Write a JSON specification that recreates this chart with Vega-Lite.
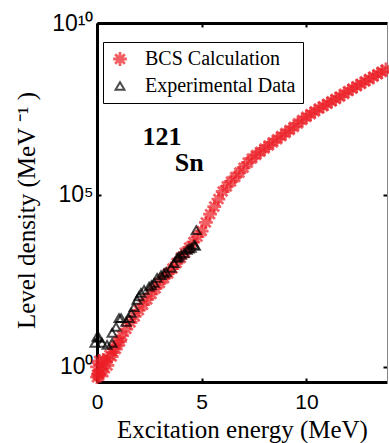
{
  "$schema": "https://vega.github.io/schema/vega-lite/v6.json",
  "width": 290,
  "height": 359,
  "autosize": {"type": "none"},
  "padding": {"left": 97, "top": 23, "right": 2, "bottom": 61},
  "background": "white",
  "config": {
    "view": {"stroke": null},
    "axis": {"labelFont": "Liberation Sans", "labelFontSize": 21, "labelColor": "black", "titleFont": "Liberation Serif", "titleFontSize": 25, "titleFontWeight": "normal", "titleColor": "black", "grid": false, "domainColor": "black", "tickColor": "black"},
    "legend": {"labelFont": "Liberation Serif", "labelFontSize": 20, "labelColor": "black", "labelFontWeight": "normal"}
  },
  "datasets": {
    "pts": [
      {"s": "BCS Calculation", "e": 0.0, "d": 0.501},
      {"s": "BCS Calculation", "e": 0.0, "d": 1.0},
      {"s": "BCS Calculation", "e": 0.05, "d": 0.6},
      {"s": "BCS Calculation", "e": 0.1, "d": 1.5},
      {"s": "BCS Calculation", "e": 0.1, "d": 0.55},
      {"s": "BCS Calculation", "e": 0.2, "d": 0.832},
      {"s": "BCS Calculation", "e": 0.3, "d": 0.7},
      {"s": "BCS Calculation", "e": 0.3, "d": 1.6},
      {"s": "BCS Calculation", "e": 0.4, "d": 1.38},
      {"s": "BCS Calculation", "e": 0.5, "d": 1.1},
      {"s": "BCS Calculation", "e": 0.6, "d": 2.19},
      {"s": "BCS Calculation", "e": 0.7, "d": 2.0},
      {"s": "BCS Calculation", "e": 0.8, "d": 3.39},
      {"s": "BCS Calculation", "e": 0.9, "d": 3.3},
      {"s": "BCS Calculation", "e": 1.0, "d": 5.25},
      {"s": "BCS Calculation", "e": 1.1, "d": 5.5},
      {"s": "BCS Calculation", "e": 1.2, "d": 8.13},
      {"s": "BCS Calculation", "e": 1.4, "d": 12.6},
      {"s": "BCS Calculation", "e": 1.6, "d": 19.5},
      {"s": "BCS Calculation", "e": 1.8, "d": 29.5},
      {"s": "BCS Calculation", "e": 2.0, "d": 44.7},
      {"s": "BCS Calculation", "e": 2.2, "d": 64.6},
      {"s": "BCS Calculation", "e": 2.4, "d": 91.2},
      {"s": "BCS Calculation", "e": 2.6, "d": 132},
      {"s": "BCS Calculation", "e": 2.8, "d": 191},
      {"s": "BCS Calculation", "e": 3.0, "d": 275},
      {"s": "BCS Calculation", "e": 3.2, "d": 380},
      {"s": "BCS Calculation", "e": 3.4, "d": 525},
      {"s": "BCS Calculation", "e": 3.6, "d": 724},
      {"s": "BCS Calculation", "e": 3.8, "d": 1047},
      {"s": "BCS Calculation", "e": 4.0, "d": 1479},
      {"s": "BCS Calculation", "e": 4.2, "d": 2089},
      {"s": "BCS Calculation", "e": 4.4, "d": 2951},
      {"s": "BCS Calculation", "e": 4.6, "d": 4266},
      {"s": "BCS Calculation", "e": 4.8, "d": 6166},
      {"s": "BCS Calculation", "e": 5.0, "d": 8913},
      {"s": "BCS Calculation", "e": 5.2, "d": 15849},
      {"s": "BCS Calculation", "e": 5.4, "d": 27542},
      {"s": "BCS Calculation", "e": 5.6, "d": 45709},
      {"s": "BCS Calculation", "e": 5.8, "d": 75858},
      {"s": "BCS Calculation", "e": 6.0, "d": 125893},
      {"s": "BCS Calculation", "e": 6.2, "d": 177828},
      {"s": "BCS Calculation", "e": 6.4, "d": 245471},
      {"s": "BCS Calculation", "e": 6.6, "d": 331131},
      {"s": "BCS Calculation", "e": 6.8, "d": 446684},
      {"s": "BCS Calculation", "e": 7.0, "d": 616595},
      {"s": "BCS Calculation", "e": 7.2, "d": 870964},
      {"s": "BCS Calculation", "e": 7.4, "d": 1.15e6},
      {"s": "BCS Calculation", "e": 7.6, "d": 1.45e6},
      {"s": "BCS Calculation", "e": 7.8, "d": 1.80e6},
      {"s": "BCS Calculation", "e": 8.0, "d": 2.24e6},
      {"s": "BCS Calculation", "e": 8.2, "d": 2.75e6},
      {"s": "BCS Calculation", "e": 8.4, "d": 3.39e6},
      {"s": "BCS Calculation", "e": 8.6, "d": 4.17e6},
      {"s": "BCS Calculation", "e": 8.8, "d": 5.13e6},
      {"s": "BCS Calculation", "e": 9.0, "d": 6.31e6},
      {"s": "BCS Calculation", "e": 9.2, "d": 7.76e6},
      {"s": "BCS Calculation", "e": 9.4, "d": 9.55e6},
      {"s": "BCS Calculation", "e": 9.6, "d": 1.20e7},
      {"s": "BCS Calculation", "e": 9.8, "d": 1.51e7},
      {"s": "BCS Calculation", "e": 10.0, "d": 1.86e7},
      {"s": "BCS Calculation", "e": 10.2, "d": 2.24e7},
      {"s": "BCS Calculation", "e": 10.4, "d": 2.69e7},
      {"s": "BCS Calculation", "e": 10.6, "d": 3.24e7},
      {"s": "BCS Calculation", "e": 10.8, "d": 3.80e7},
      {"s": "BCS Calculation", "e": 11.0, "d": 4.47e7},
      {"s": "BCS Calculation", "e": 11.2, "d": 5.25e7},
      {"s": "BCS Calculation", "e": 11.4, "d": 6.17e7},
      {"s": "BCS Calculation", "e": 11.6, "d": 7.24e7},
      {"s": "BCS Calculation", "e": 11.8, "d": 8.71e7},
      {"s": "BCS Calculation", "e": 12.0, "d": 1.05e8},
      {"s": "BCS Calculation", "e": 12.2, "d": 1.23e8},
      {"s": "BCS Calculation", "e": 12.4, "d": 1.45e8},
      {"s": "BCS Calculation", "e": 12.6, "d": 1.70e8},
      {"s": "BCS Calculation", "e": 12.8, "d": 2.00e8},
      {"s": "BCS Calculation", "e": 13.0, "d": 2.34e8},
      {"s": "BCS Calculation", "e": 13.2, "d": 2.75e8},
      {"s": "BCS Calculation", "e": 13.4, "d": 3.24e8},
      {"s": "BCS Calculation", "e": 13.6, "d": 3.80e8},
      {"s": "BCS Calculation", "e": 13.8, "d": 4.47e8},
      {"s": "Experimental Data", "e": 0.0, "d": 7.41},
      {"s": "Experimental Data", "e": -0.1, "d": 5.01},
      {"s": "Experimental Data", "e": 0.1, "d": 6.92},
      {"s": "Experimental Data", "e": 0.24, "d": 5.01},
      {"s": "Experimental Data", "e": 0.48, "d": 4.37},
      {"s": "Experimental Data", "e": 0.72, "d": 5.01},
      {"s": "Experimental Data", "e": 0.72, "d": 9.77},
      {"s": "Experimental Data", "e": 0.91, "d": 14.5},
      {"s": "Experimental Data", "e": 1.05, "d": 26.3},
      {"s": "Experimental Data", "e": 1.15, "d": 26.3},
      {"s": "Experimental Data", "e": 1.39, "d": 20.4},
      {"s": "Experimental Data", "e": 1.53, "d": 26.3},
      {"s": "Experimental Data", "e": 1.63, "d": 37.2},
      {"s": "Experimental Data", "e": 1.77, "d": 55.0},
      {"s": "Experimental Data", "e": 1.91, "d": 89.1},
      {"s": "Experimental Data", "e": 2.0, "d": 112},
      {"s": "Experimental Data", "e": 2.1, "d": 141},
      {"s": "Experimental Data", "e": 2.25, "d": 174},
      {"s": "Experimental Data", "e": 2.49, "d": 214},
      {"s": "Experimental Data", "e": 2.6, "d": 240},
      {"s": "Experimental Data", "e": 2.73, "d": 275},
      {"s": "Experimental Data", "e": 2.87, "d": 389},
      {"s": "Experimental Data", "e": 3.06, "d": 468},
      {"s": "Experimental Data", "e": 3.2, "d": 525},
      {"s": "Experimental Data", "e": 3.3, "d": 575},
      {"s": "Experimental Data", "e": 3.54, "d": 759},
      {"s": "Experimental Data", "e": 3.68, "d": 1047},
      {"s": "Experimental Data", "e": 3.83, "d": 1479},
      {"s": "Experimental Data", "e": 3.9, "d": 1585},
      {"s": "Experimental Data", "e": 4.02, "d": 1820},
      {"s": "Experimental Data", "e": 4.16, "d": 2042},
      {"s": "Experimental Data", "e": 4.31, "d": 2512},
      {"s": "Experimental Data", "e": 4.4, "d": 2754},
      {"s": "Experimental Data", "e": 4.5, "d": 2884},
      {"s": "Experimental Data", "e": 4.64, "d": 3548},
      {"s": "Experimental Data", "e": 4.7, "d": 3311},
      {"s": "Experimental Data", "e": 4.74, "d": 9550}
    ],
    "labels": [
      {"t": "121", "e": 3.1, "d": 4.9e6},
      {"t": "Sn", "e": 4.4, "d": 8.5e5}
    ]
  },
  "resolve": {"axis": {"x": "independent", "y": "independent"}},
  "layer": [
    {
      "data": {"name": "pts"},
      "mark": {"type": "point", "filled": false, "clip": false},
      "encoding": {
        "x": {"field": "e", "type": "quantitative", "scale": {"domain": [0, 13.85], "nice": false, "zero": false},
          "axis": {"orient": "bottom", "title": "Excitation energy (MeV)", "values": [0, 5, 10], "tickSize": -4, "tickWidth": 2, "domainWidth": 3, "labelPadding": 13, "labelFlush": false, "titleY": 55, "titleBaseline": "alphabetic", "titleX": 145}},
        "y": {"field": "d", "type": "quantitative", "scale": {"type": "log", "domain": [0.363, 1e10], "nice": false},
          "axis": {"orient": "left", "title": "Level density (MeV ⁻¹ )", "values": [1, 100000, 10000000000], "labelExpr": "datum.value == 1 ? '10⁰' : datum.value == 100000 ? '10⁵' : '10¹⁰'", "labelFontSize": 23, "tickSize": -4, "tickWidth": 2, "domainWidth": 3, "labelPadding": 8, "labelFlush": false, "titleX": -63, "titleY": 187, "titleBaseline": "alphabetic", "titleAngle": -90, "titleAlign": "center"}},
        "color": {"field": "s", "type": "nominal", "scale": {"domain": ["BCS Calculation", "Experimental Data"], "range": ["#ec1c24", "black"]},
          "legend": {"title": null, "orient": "none", "legendX": 6, "legendY": 19, "labelFont": "Liberation Serif", "labelFontSize": 20, "labelColor": "black", "strokeColor": "black", "fillColor": "white", "padding": 7, "rowPadding": 4, "symbolOffset": 0, "labelOffset": 15, "symbolSize": 60, "symbolStrokeWidth": 1.8, "labelLimit": 300,
            "encode": {"legend": {"update": {"strokeWidth": {"value": 2}}}, "symbols": {"update": {"x": {"value": 15}}}, "labels": {"update": {"font": {"value": "Liberation Serif"}, "fontSize": {"value": 20}}}}}},
        "shape": {"field": "s", "type": "nominal", "scale": {"domain": ["BCS Calculation", "Experimental Data"], "range": ["M-1,0L1,0M0,-1L0,1M-0.7,-0.7L0.7,0.7M-0.7,0.7L0.7,-0.7", "triangle-up"]}, "legend": null},
        "size": {"field": "s", "type": "nominal", "scale": {"domain": ["BCS Calculation", "Experimental Data"], "range": [190, 80]}, "legend": null},
        "strokeWidth": {"field": "s", "type": "nominal", "scale": {"domain": ["BCS Calculation", "Experimental Data"], "range": [2.8, 2]}, "legend": null}
      }
    },
    {
      "data": {"name": "labels"},
      "mark": {"type": "text", "font": "Liberation Serif", "fontSize": 26, "fontWeight": "bold", "color": "black", "align": "center", "baseline": "middle"},
      "encoding": {
        "x": {"field": "e", "type": "quantitative",
          "axis": {"orient": "top", "title": null, "labels": false, "values": [0, 5, 10], "tickSize": -4, "tickWidth": 2, "domainWidth": 3}},
        "y": {"field": "d", "type": "quantitative",
          "axis": {"orient": "right", "title": null, "labels": false, "values": [1, 100000, 10000000000], "tickSize": -4, "tickWidth": 2, "domainWidth": 1, "domainColor": "#888888"}},
        "text": {"field": "t"}
      }
    }
  ]
}
